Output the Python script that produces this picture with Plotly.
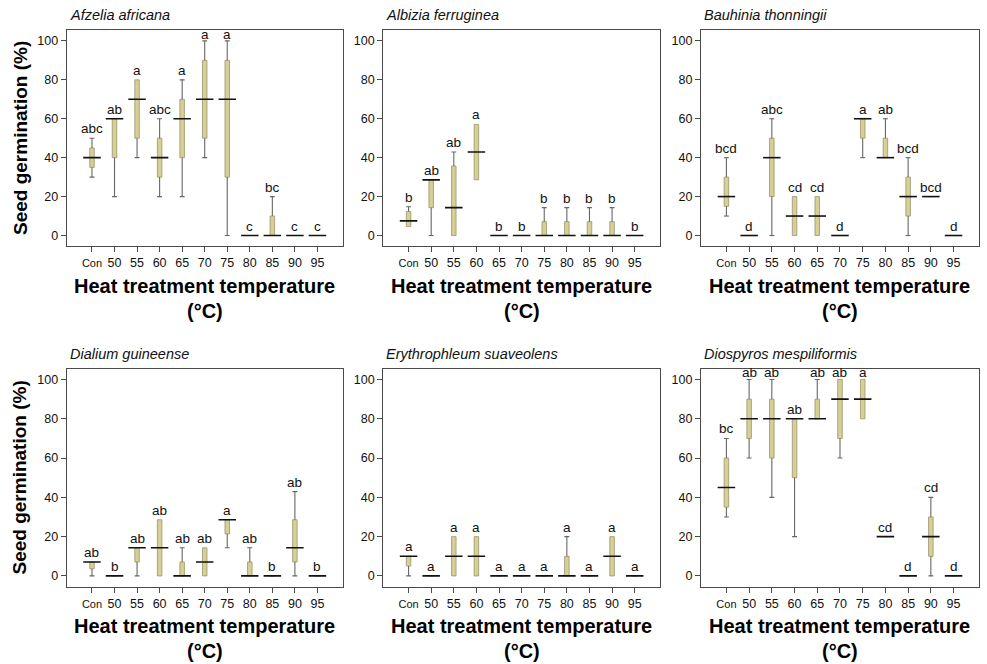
import plotly.graph_objects as go
from plotly.subplots import make_subplots

categories = ["Con", "50", "55", "60", "65", "70", "75", "80", "85", "90", "95"]

species = ["Afzelia africana", "Albizia ferruginea", "Bauhinia thonningii",
           "Dialium guineense", "Erythrophleum suaveolens", "Diospyros mespiliformis"]

# Afzelia africana
afz_low = [30, 20, 40, 20, 20, 40, 0, 0, 0, 0, 0]
afz_q1 = [35, 40, 50, 30, 40, 50, 30, 0, 0, 0, 0]
afz_med = [40, 60, 70, 40, 60, 70, 70, 0, 0, 0, 0]
afz_q3 = [45, 60, 80, 50, 70, 90, 90, 0, 10, 0, 0]
afz_high = [50, 60, 80, 60, 80, 100, 100, 0, 20, 0, 0]
afz_let = ["abc", "ab", "a", "abc", "a", "a", "a", "c", "bc", "c", "c"]

# Albizia ferruginea
alb_low = [4.6, 0, 0, 28.6, 0, 0, 0, 0, 0, 0, 0]
alb_q1 = [4.6, 14.3, 0, 28.6, 0, 0, 0, 0, 0, 0, 0]
alb_med = [7.5, 28.6, 14.3, 42.9, 0, 0, 0, 0, 0, 0, 0]
alb_q3 = [12.3, 28.6, 35.7, 57.1, 0, 0, 7.1, 7.1, 7.1, 7.1, 0]
alb_high = [14.8, 28.6, 42.9, 57.1, 0, 0, 14.3, 14.3, 14.3, 14.3, 0]
alb_let = ["b", "ab", "ab", "a", "b", "b", "b", "b", "b", "b", "b"]

# Bauhinia thonningii
bau_low = [10, 0, 0, 0, 0, 0, 40, 40, 0, 20, 0]
bau_q1 = [15, 0, 20, 0, 0, 0, 50, 40, 10, 20, 0]
bau_med = [20, 0, 40, 10, 10, 0, 60, 40, 20, 20, 0]
bau_q3 = [30, 0, 50, 20, 20, 0, 60, 50, 30, 20, 0]
bau_high = [40, 0, 60, 20, 20, 0, 60, 60, 40, 20, 0]
bau_let = ["bcd", "d", "abc", "cd", "cd", "d", "a", "ab", "bcd", "bcd", "d"]

# Dialium guineense
dia_low = [0, 0, 0, 0, 0, 0, 14.3, 0, 0, 0, 0]
dia_q1 = [3.6, 0, 7.1, 0, 0, 0, 21.4, 0, 0, 7.1, 0]
dia_med = [7.1, 0, 14.3, 14.3, 0, 7.1, 28.6, 0, 0, 14.3, 0]
dia_q3 = [7.1, 0, 14.3, 28.6, 7.1, 14.3, 28.6, 7.1, 0, 28.6, 0]
dia_high = [7.1, 0, 14.3, 28.6, 14.3, 14.3, 28.6, 14.3, 0, 42.9, 0]
dia_let = ["ab", "b", "ab", "ab", "ab", "ab", "a", "ab", "b", "ab", "b"]

# Erythrophleum suaveolens
ery_low = [0, 0, 0, 0, 0, 0, 0, 0, 0, 0, 0]
ery_q1 = [5, 0, 0, 0, 0, 0, 0, 0, 0, 0, 0]
ery_med = [10, 0, 10, 10, 0, 0, 0, 0, 0, 10, 0]
ery_q3 = [10, 0, 20, 20, 0, 0, 0, 10, 0, 20, 0]
ery_high = [10, 0, 20, 20, 0, 0, 0, 20, 0, 20, 0]
ery_let = ["a", "a", "a", "a", "a", "a", "a", "a", "a", "a", "a"]

# Diospyros mespiliformis
dio_low = [30, 60, 40, 20, 80, 60, 80, 20, 0, 0, 0]
dio_q1 = [35, 70, 60, 50, 80, 70, 80, 20, 0, 10, 0]
dio_med = [45, 80, 80, 80, 80, 90, 90, 20, 0, 20, 0]
dio_q3 = [60, 90, 90, 80, 90, 100, 100, 20, 0, 30, 0]
dio_high = [70, 100, 100, 80, 100, 100, 100, 20, 0, 40, 0]
dio_let = ["bc", "ab", "ab", "ab", "ab", "ab", "a", "cd", "d", "cd", "d"]

panels = [
    (afz_low, afz_q1, afz_med, afz_q3, afz_high, afz_let),
    (alb_low, alb_q1, alb_med, alb_q3, alb_high, alb_let),
    (bau_low, bau_q1, bau_med, bau_q3, bau_high, bau_let),
    (dia_low, dia_q1, dia_med, dia_q3, dia_high, dia_let),
    (ery_low, ery_q1, ery_med, ery_q3, ery_high, ery_let),
    (dio_low, dio_q1, dio_med, dio_q3, dio_high, dio_let),
]

FONT = "Liberation Sans, Arial, sans-serif"
BOX_FILL = "#d6cf96"
BOX_LINE = "#9a9468"
WHISK = "#666666"
FRAME = "#4a4a4a"

fig = make_subplots(rows=2, cols=3)

col_dom = [[0.0676, 0.3472], [0.3883, 0.6687], [0.7102, 0.9919]]
row_dom = [[0.6295, 0.9548], [0.1167, 0.4450]]

ticktext = ['<span style="font-size:11px">Con</span>'] + categories[1:]

annotations = []
for i, (lo, q1, md, q3, hi, lets) in enumerate(panels):
    r = i // 3 + 1
    c = i % 3 + 1
    # boxes
    fig.add_trace(go.Bar(
        x=categories, y=[b - a for a, b in zip(q1, q3)], base=q1, width=0.2,
        marker=dict(color=BOX_FILL, line=dict(color=BOX_LINE, width=0.8)),
        showlegend=False, hoverinfo="skip"), row=r, col=c)
    # whiskers
    wx, wy = [], []
    cx, cy = [], []
    for k, cat in enumerate(categories):
        if lo[k] < q1[k]:
            wx += [cat, cat, None]
            wy += [lo[k], q1[k], None]
            cx.append(cat); cy.append(lo[k])
        if hi[k] > q3[k]:
            wx += [cat, cat, None]
            wy += [q3[k], hi[k], None]
            cx.append(cat); cy.append(hi[k])
    fig.add_trace(go.Scatter(x=wx, y=wy, mode="lines", connectgaps=False,
                             line=dict(color=WHISK, width=1.1),
                             showlegend=False, hoverinfo="skip"), row=r, col=c)
    fig.add_trace(go.Scatter(x=cx, y=cy, mode="markers",
                             marker=dict(symbol="line-ew", size=3.5,
                                         line=dict(color=WHISK, width=1.1)),
                             showlegend=False, hoverinfo="skip"), row=r, col=c)
    # medians
    fig.add_trace(go.Scatter(x=categories, y=md, mode="markers",
                             marker=dict(symbol="line-ew", size=12.5,
                                         line=dict(color="#111111", width=1.6)),
                             showlegend=False, hoverinfo="skip"), row=r, col=c)
    xn = "x" if i == 0 else f"x{i+1}"
    yn = "y" if i == 0 else f"y{i+1}"
    for k, cat in enumerate(categories):
        # category axis: annotation x given as the category index
        annotations.append(dict(x=k, y=hi[k], xref=xn, yref=yn, text=lets[k],
                                showarrow=False, yanchor="middle",
                                yshift=6.8 if hi[k] >= 100 else 9.5,
                                font=dict(size=13.5, color="#111111", family=FONT)))
    # species title
    annotations.append(dict(x=0.004, y=1, xref=f"{xn} domain", yref=f"{yn} domain",
                            text=f"<i>{species[i]}</i>", showarrow=False,
                            xanchor="left", yanchor="bottom", yshift=5,
                            font=dict(size=14.5, color="#111111", family=FONT)))
    # x titles
    ybase = [286, 626][r - 1]
    annotations.append(dict(x=0.5, y=1 - ybase / 664, xref=f"{xn} domain", yref="paper",
                            text="<b>Heat treatment temperature</b>", showarrow=False,
                            xanchor="center", yanchor="middle",
                            font=dict(size=20, color="#000000", family=FONT)))
    annotations.append(dict(x=0.5, y=1 - (ybase + 25) / 664, xref=f"{xn} domain", yref="paper",
                            text="<b>(°C)</b>", showarrow=False,
                            xanchor="center", yanchor="middle",
                            font=dict(size=20, color="#000000", family=FONT)))
    if c == 1:
        annotations.append(dict(x=20 / 987, y=0.5, xref="paper", yref=f"{yn} domain",
                                text="<b>Seed germination (%)</b>", showarrow=False,
                                textangle=-90, xanchor="center", yanchor="middle",
                                font=dict(size=19, color="#000000", family=FONT)))

    fig.update_xaxes(domain=col_dom[c - 1], type="category", categoryorder="array",
                     categoryarray=categories, tickvals=categories, ticktext=ticktext,
                     range=[-1.12, 11.12], showline=True, mirror=True,
                     linecolor=FRAME, linewidth=1.2, ticks="outside", ticklen=5,
                     tickcolor=FRAME, tickwidth=1, showgrid=False, zeroline=False,
                     tickfont=dict(size=12.5, color="#111111", family=FONT),
                     row=r, col=c)
    fig.update_yaxes(domain=row_dom[r - 1], range=[-5.4, 105.6],
                     tickvals=[0, 20, 40, 60, 80, 100], showline=True, mirror=True,
                     linecolor=FRAME, linewidth=1.2, ticks="outside", ticklen=5,
                     tickcolor=FRAME, tickwidth=1, showgrid=False, zeroline=False,
                     tickfont=dict(size=12.5, color="#111111", family=FONT),
                     row=r, col=c)

fig.update_layout(width=987, height=664, margin=dict(l=0, r=0, t=0, b=0),
                  paper_bgcolor="white", plot_bgcolor="white", barmode="overlay",
                  showlegend=False, annotations=annotations,
                  font=dict(family=FONT))

fig.write_html("out.html")
